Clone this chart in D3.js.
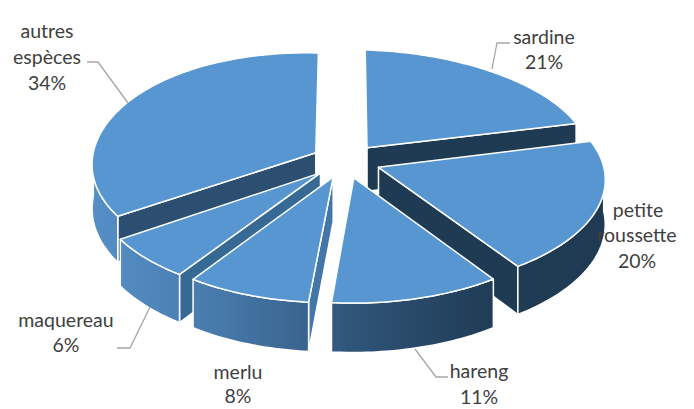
<!DOCTYPE html>
<html><head><meta charset="utf-8">
<script src="https://cdn.jsdelivr.net/npm/d3@7/dist/d3.min.js"></script>
<style>html,body{margin:0;padding:0;background:#fff}svg{display:block}text{font-family:Lato,"Open Sans",sans-serif;font-size:19.5px;fill:#404040;text-anchor:middle}</style>
</head><body><svg id="c" width="694" height="409"></svg>
<script>
// data
const categories = ["sardine","petite roussette","hareng","merlu","maquereau","autres espèces"];
const values = [21,20,11,8,6,34];
// styling / layout
const faceColors = ["#1f3b54","#1f3b54",null,"#4377a9","#376995","#2c4f71"];
const labelLines = [
 [["sardine",544,44],["21%",544,69]],
 [["petite",638,217],["roussette",637,242],["20%",637,268]],
 [["hareng",479,378],["11%",479,404]],
 [["merlu",238,379],["8%",238,403]],
 [["maquereau",66,327],["6%",66,352]],
 [["autres",47,38],["espèces",47,64],["34%",47,90]]
];
const leaders = [
 [[492,69],[497,43],[510,43]],
 [[415,349],[436,377],[448,377]],
 [[150,307],[130,348],[117,348]],
 [[128,103],[98,62],[87,62]]
];
const cx=346, cy=161, A=224, B=110, k=0.095, explode=0.155, depth=44;
const xS=d3.scaleLinear().domain([-1,1]).range([cx-A,cx+A]);
const yS=d3.scaleLinear().domain([-1,1]).range([cy-B,cy+B]);
function project(X,Z,h){
 const s=1/(1-k*Z);
 const front=Math.max(Z,0);
 return [xS(X*s)+6.5*front*front, yS(Z*s)+h*s-5*X*Z];
}
const svg=d3.select("#c");
const defs=svg.append("defs");
const g=defs.append("linearGradient").attr("id","rim").attr("gradientUnits","userSpaceOnUse")
 .attr("x1",90).attr("x2",605).attr("y1",0).attr("y2",0);
[[0,"#5690c8"],[0.2,"#4a7fb2"],[0.42,"#3a648e"],[0.5,"#2f5579"],[0.78,"#203c56"],[1,"#1f3a52"]]
 .forEach(d=>g.append("stop").attr("offset",d[0]).attr("stop-color",d[1]));
const pie=d3.pie().sort(null).value(d=>d)(values);
const line=d3.line();
const order=[0,5,1,4,3,2];
const HALF=Math.PI;
order.forEach(i=>{
 const p=pie[i], a0=p.startAngle, a1=p.endAngle, mid=(a0+a1)/2;
 const ox=explode*Math.sin(mid), oz=-explode*Math.cos(mid);
 const pt=(a,r,h)=>project(ox+r*Math.sin(a),oz-r*Math.cos(a),h);
 const arcPts=(u,v,h)=>{const n=Math.max(2,Math.ceil((v-u)/0.02));return d3.range(n+1).map(j=>pt(u+(v-u)*j/n,1,h));};
 const G=svg.append("g").attr("class","slice").attr("data-name",categories[i]);
 const stroke={stroke:"#fff","stroke-width":1.5,"stroke-linejoin":"round"};
 const draw=(pts,fill)=>{const e=G.append("path").attr("d",line(pts)+"Z").attr("fill",fill);
   Object.entries(stroke).forEach(([a,b])=>e.attr(a,b));};
 if(a0>HALF){draw([pt(a0,0,0),pt(a0,1,0),pt(a0,1,depth),pt(a0,0,depth)],faceColors[i]);}
 if(a1<HALF){draw([pt(a1,0,0),pt(a1,1,0),pt(a1,1,depth),pt(a1,0,depth)],faceColors[i]);}
 const u=Math.max(a0,HALF/2), v=Math.min(a1,HALF*1.5);
 if(v>u){draw(arcPts(u,v,0).concat(arcPts(u,v,depth).reverse()),"url(#rim)");}
 draw([pt(a0,0,0)].concat(arcPts(a0,a1,0)),"#5796d1");
});
svg.selectAll("path.leader").data(leaders).join("path").attr("class","leader")
 .attr("d",d=>line(d)).attr("fill","none").attr("stroke","#a6a6a6").attr("stroke-width",1.3);
svg.selectAll("g.label").data(labelLines).join("g").attr("class","label")
 .selectAll("text").data(d=>d).join("text").attr("x",d=>d[1]).attr("y",d=>d[2]).text(d=>d[0]);
</script></body></html>
